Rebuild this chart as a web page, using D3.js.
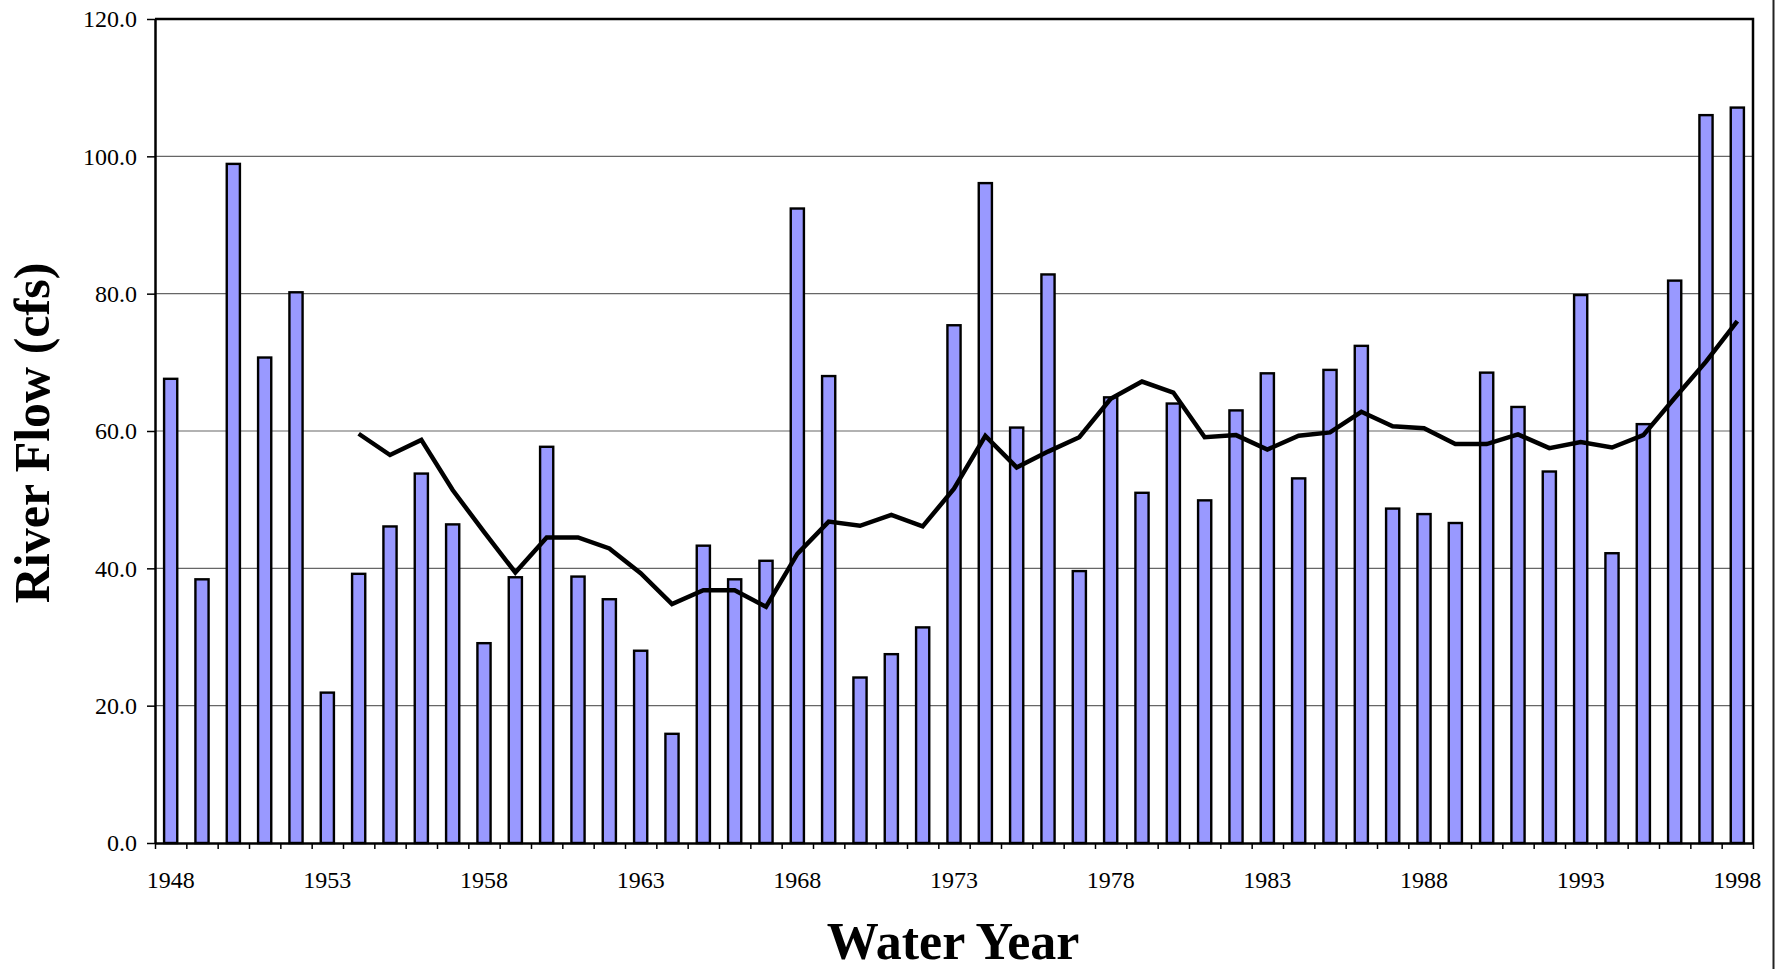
<!DOCTYPE html>
<html>
<head>
<meta charset="utf-8">
<script src="https://cdn.jsdelivr.net/npm/d3@7"></script>
<style>
  body { margin: 0; background: #fff; }
  text { font-family: 'Liberation Serif', 'Times New Roman', serif; fill: #000; }
</style>
</head>
<body>
<div class="chart-container"></div>
<script>
// Data
const years = d3.range(1948, 1999);
const flows = [
    67.6, 38.4, 98.9, 70.7, 80.2, 21.9, 39.2, 46.1, 53.8, 46.4,
    29.1, 38.7, 57.7, 38.8, 35.5, 28.0, 15.9, 43.3, 38.4, 41.1,
    92.4, 68.0, 24.1, 27.5, 31.4, 75.4, 96.1, 60.5, 82.8, 39.6,
    64.9, 51.0, 64.0, 49.9, 63.0, 68.4, 53.1, 68.9, 72.4, 48.7,
    47.9, 46.6, 68.5, 63.5, 54.1, 79.8, 42.2, 61.0, 81.9, 106.0,
    107.1
];
// 7-year moving average (starts 1954)
const avgYears = d3.range(1954, 1999);
const avgFlows = [
    59.6, 56.5, 58.7, 51.4, 45.3, 39.4, 44.5, 44.5, 42.9, 39.3,
    34.8, 36.8, 36.8, 34.4, 42.1, 46.8, 46.2, 47.8, 46.1, 51.6,
    59.3, 54.7, 57.0, 59.1, 64.7, 67.2, 65.6, 59.1, 59.4, 57.3,
    59.3, 59.8, 62.8, 60.7, 60.4, 58.1, 58.1, 59.5, 57.5, 58.4,
    57.6, 59.4, 64.8, 70.1, 76.0
];
const yTicks = [0, 20, 40, 60, 80, 100, 120];
const labelYears = d3.range(1948, 1999, 5);

// Margin Convention
const margin = { top: 19, right: 26, bottom: 126, left: 155 };
const totalW = 1779, totalH = 969;
const width = totalW - margin.left - margin.right;
const height = totalH - margin.top - margin.bottom;

// Scales
const xScale = d3.scaleBand().domain(years).range([0, width]);
const edgeScale = d3.scaleLinear().domain([0, years.length]).range([0, width]);
const yScale = d3.scaleLinear().domain([0, 120]).range([height, 0]);
const barW = xScale.bandwidth() * 0.42;

const root = d3.select('.chart-container')
    .append('svg')
    .attr('width', totalW)
    .attr('height', totalH);

// outer frame edge on the right
root.append('line')
    .attr('x1', 1773.5).attr('x2', 1773.5)
    .attr('y1', 0).attr('y2', totalH)
    .attr('stroke', '#222').attr('stroke-width', 2);

const svg = root.append('g')
    .attr('transform', `translate(${margin.left},${margin.top})`);

// Grid lines
svg.append('g')
    .attr('class', 'grid')
    .selectAll('line')
    .data(yTicks.filter(d => d > 0 && d < 120))
    .join('line')
    .attr('x1', 0).attr('x2', width)
    .attr('y1', d => yScale(d)).attr('y2', d => yScale(d))
    .attr('stroke', '#666')
    .attr('stroke-width', 1.2);

// Bars
svg.append('g')
    .attr('class', 'bars')
    .selectAll('rect')
    .data(years.map((y, i) => ({ year: y, flow: flows[i] })))
    .join('rect')
    .attr('x', d => xScale(d.year) + (xScale.bandwidth() - barW) / 2)
    .attr('y', d => yScale(d.flow))
    .attr('width', barW)
    .attr('height', d => height - yScale(d.flow))
    .attr('fill', '#9999ff')
    .attr('stroke', '#000')
    .attr('stroke-width', 2.4);

// Moving average line
const line = d3.line()
    .x(d => xScale(d.year) + xScale.bandwidth() / 2)
    .y(d => yScale(d.flow));

svg.append('path')
    .datum(avgYears.map((y, i) => ({ year: y, flow: avgFlows[i] })))
    .attr('d', line)
    .attr('fill', 'none')
    .attr('stroke', '#000')
    .attr('stroke-width', 4.5);

// Plot frame (top and right)
svg.append('path')
    .attr('d', `M0,0H${width}V${height}`)
    .attr('fill', 'none')
    .attr('stroke', '#000')
    .attr('stroke-width', 2.5);

// Y axis
const yAxis = d3.axisLeft(yScale)
    .tickValues(yTicks)
    .tickFormat(d3.format('.1f'))
    .tickSizeInner(8)
    .tickSizeOuter(0)
    .tickPadding(10);

const yAxisDraw = svg.append('g')
    .attr('class', 'y axis')
    .call(yAxis);
yAxisDraw.select('.domain').attr('stroke-width', 2.5);
yAxisDraw.selectAll('.tick line').attr('stroke-width', 1.5);
yAxisDraw.selectAll('text')
    .style('font-family', "'Liberation Serif', serif")
    .style('font-size', '24px')
    .attr('fill', '#000');

// X axis: tick marks at category edges
const xEdges = d3.axisBottom(edgeScale)
    .tickValues(d3.range(0, years.length + 1))
    .tickFormat('')
    .tickSizeInner(6)
    .tickSizeOuter(0);

const xEdgeDraw = svg.append('g')
    .attr('class', 'x axis')
    .attr('transform', `translate(0, ${height})`)
    .call(xEdges);
xEdgeDraw.select('.domain').attr('stroke-width', 2.5);
xEdgeDraw.selectAll('.tick line').attr('stroke-width', 1.5);

// X axis labels every five years
const xLabels = d3.axisBottom(xScale)
    .tickValues(labelYears)
    .tickSize(0)
    .tickPadding(28);

const xLabelDraw = svg.append('g')
    .attr('transform', `translate(0, ${height})`)
    .call(xLabels);
xLabelDraw.select('.domain').remove();
xLabelDraw.selectAll('text')
    .style('font-family', "'Liberation Serif', serif")
    .style('font-size', '24px')
    .attr('fill', '#000');

// Axis titles
root.append('text')
    .attr('x', 953)
    .attr('y', 959)
    .attr('text-anchor', 'middle')
    .style('font-size', '52px')
    .style('font-weight', 'bold')
    .text('Water Year');

root.append('text')
    .attr('transform', 'translate(49, 433) rotate(-90)')
    .attr('text-anchor', 'middle')
    .style('font-size', '50px')
    .style('font-weight', 'bold')
    .text('River Flow (cfs)');
</script>
</body>
</html>
